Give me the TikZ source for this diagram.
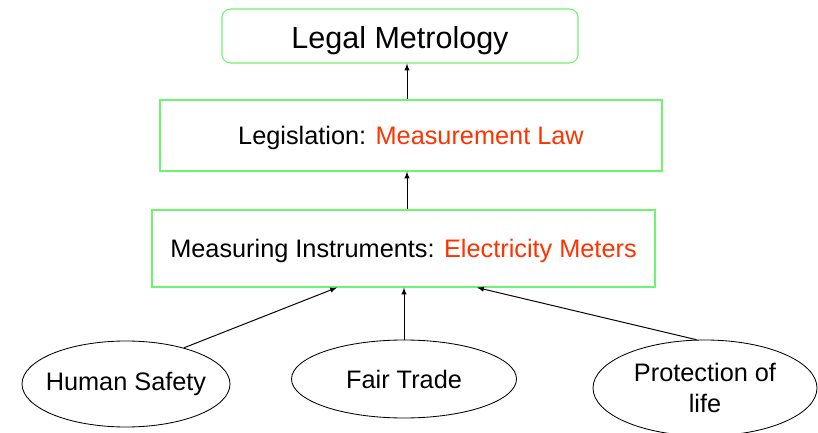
\documentclass[tikz,border=0pt]{standalone}
\usepackage{fontspec}
\setmainfont{Liberation Sans}
\usepackage{tikz}
\usetikzlibrary{positioning}
\usetikzlibrary{arrows,shapes}
\usetikzlibrary{calc}
\definecolor{boxgreen}{RGB}{110,245,110}
\definecolor{lawred}{RGB}{255,51,0}

\begin{document}
\begin{tikzpicture}[>=latex, line width=0.7pt,
    greenbox/.style={draw=boxgreen, line width=0.8pt, align=center, inner sep=0pt,
                     text height=17.3pt, text depth=3.8pt, font=\fontsize{18}{22}\selectfont},
    aim/.style={ellipse, draw, line width=0.6pt, align=center, inner xsep=-5pt, inner ysep=0pt,
                font=\fontsize{18}{22}\selectfont}]
 \useasboundingbox (0,0) rectangle (20.45,10.8);

 %level 1
    \node[greenbox, rounded corners=6pt, minimum width=8.9cm, minimum height=1.35cm,
          text height=23pt, text depth=4.6pt, font=\fontsize{21.7}{26}\selectfont] (lm) at (10.0,9.9) {Legal Metrology};

 %level 2
    \node[greenbox, minimum width=12.55cm, minimum height=1.775cm] (leg) at (10.275,7.4125)
          {Legislation: \textcolor{lawred}{Measurement Law}};

 %level 3
    \node[greenbox, minimum width=12.575cm, minimum height=1.925cm] (mi) at (10.0875,4.5875)
          {Measuring Instruments: \textcolor{lawred}{Electricity Meters}};

 %bottom line
    \foreach \x/\y/\w/\h/\txt/\name in {3.15/1.2/5.2/2.15/Human Safety/hs, 10.1/1.325/5.625/1.95/Fair Trade/ft,
                                        17.625/1.1/5.6/2.4/Protection of\\life/pr} {
         \node[aim, minimum width=\w cm, minimum height=\h cm] (\name) at (\x,\y) {\txt};
    }

 %arrows
    \draw[->] (leg.north -| 10.175,0) -- (lm.south -| 10.175,0);
    \draw[->] (mi.north -| 10.175,0) -- (leg.south -| 10.175,0);
    \draw[->] (hs.32) -- ([xshift=-1.6625cm]mi.south);
    \draw[->] (ft.north) -- (ft.north |- mi.south);
    \draw[->] (pr.100) -- ([xshift=1.8375cm]mi.south);
\end{tikzpicture}
\end{document}
